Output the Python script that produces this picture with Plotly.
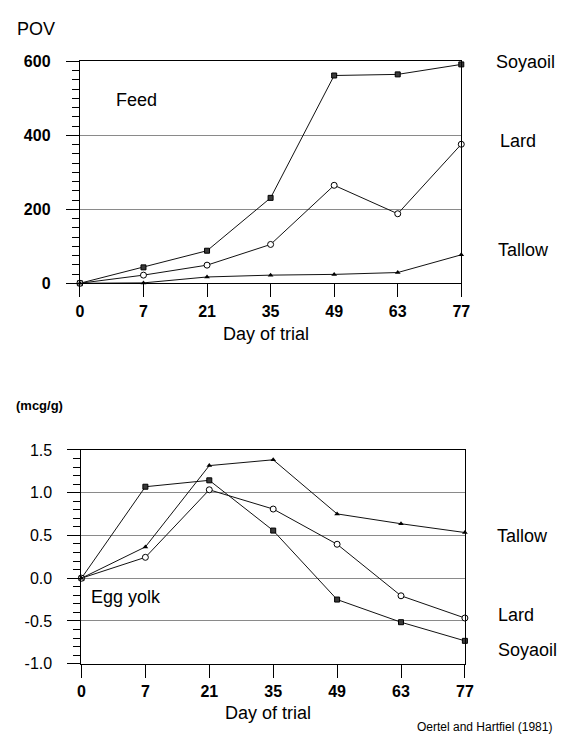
import plotly.graph_objects as go

W, H = 568, 744

days = ["0", "7", "21", "35", "49", "63", "77"]

# Feed POV
feed_soyaoil = [0, 43, 88, 231, 562, 565, 592]
feed_lard = [0, 22, 49, 105, 265, 188, 376]
feed_tallow = [0, 1, 17, 22, 24, 29, 77]

# Egg yolk (mcg/g)
yolk_soyaoil = [0, 1.07, 1.145, 0.557, -0.25, -0.515, -0.733]
yolk_lard = [0, 0.244, 1.034, 0.809, 0.397, -0.206, -0.466]
yolk_tallow = [0, 0.366, 1.317, 1.385, 0.752, 0.637, 0.534]

yolk_ticks = [-1.0, -0.5, 0.0, 0.5, 1.0, 1.5]
yolk_ticktext = ["-1.0", "-0.5", "0.0", "0.5", "1.0", "1.5"]
feed_ticks = [0, 200, 400, 600]
feed_ticktext = ["0", "200", "400", "600"]

FONT = "Liberation Sans, Arial, sans-serif"

def px(x):
    return x / W

def py(y):
    return 1 - y / H

styles = {
    "Soyaoil": dict(symbol="square", size=5, color="#3a3a3a", line=dict(color="black", width=1)),
    "Lard": dict(symbol="circle", size=6, color="white", line=dict(color="black", width=1)),
    "Tallow": dict(symbol="triangle-up", size=5, color="black", line=dict(color="black", width=0)),
}

fig = go.Figure()

for name, vals in [("Soyaoil", feed_soyaoil), ("Lard", feed_lard), ("Tallow", feed_tallow)]:
    fig.add_trace(go.Scatter(x=days, y=vals, mode="lines+markers", name=name,
                             line=dict(color="#111111", width=1), marker=styles[name],
                             cliponaxis=False, xaxis="x", yaxis="y", showlegend=False))

for name, vals in [("Soyaoil", yolk_soyaoil), ("Lard", yolk_lard), ("Tallow", yolk_tallow)]:
    fig.add_trace(go.Scatter(x=days, y=vals, mode="lines+markers", name=name,
                             line=dict(color="#111111", width=1), marker=styles[name],
                             cliponaxis=False, xaxis="x2", yaxis="y2", showlegend=False))

xcommon = dict(type="category", categoryorder="array", categoryarray=days, range=[0, 6],
               showline=True, linecolor="black", linewidth=1.3, mirror=True,
               ticks="outside", ticklen=13, tickcolor="black", tickwidth=1,
               showgrid=False, zeroline=False,
               tickfont=dict(family=FONT, size=16, color="black", weight="bold"))

fig.update_layout(
    width=W, height=H,
    margin=dict(l=0, r=0, t=0, b=0),
    paper_bgcolor="white", plot_bgcolor="white",
    xaxis=dict(domain=[px(77.7), px(468)], anchor="y", **xcommon),
    yaxis=dict(domain=[py(281.7), py(54.7)], anchor="x", range=[0, 600],
               tickmode="array", tickvals=feed_ticks, ticktext=feed_ticktext,
               showline=True, linecolor="black", linewidth=1.3, mirror=True,
               ticks="outside", ticklen=13, tickcolor="black",
               ticklabelstandoff=12,
               minor=dict(ticks="outside", ticklen=7, dtick=25, tickcolor="black", showgrid=False),
               showgrid=True, gridcolor="#8a8a8a", gridwidth=1, zeroline=False,
               tickfont=dict(family=FONT, size=16, color="black", weight="bold")),
    xaxis2=dict(domain=[px(79.3), px(471.7)], anchor="y2", **xcommon),
    yaxis2=dict(domain=[py(671), py(452.3)], anchor="x2", range=[-1.0, 1.5],
                tickmode="array", tickvals=yolk_ticks, ticktext=yolk_ticktext,
                showline=True, linecolor="black", linewidth=1.3, mirror=True,
                ticks="outside", ticklen=13, tickcolor="black",
                ticklabelstandoff=12,
                minor=dict(ticks="outside", ticklen=7, dtick=0.1, tickcolor="black", showgrid=False),
                showgrid=True, gridcolor="#8a8a8a", gridwidth=1, zeroline=False,
                tickfont=dict(family=FONT, size=16, color="black")),
)

def note(text, x, y, size=18, xanchor="left", bold=False):
    fig.add_annotation(text=text, x=px(x), y=py(y), xref="paper", yref="paper",
                       xanchor=xanchor, yanchor="middle", showarrow=False,
                       font=dict(family=FONT, size=size, color="black",
                                 weight="bold" if bold else "normal"))

note("POV", 11, 21, size=18)
note("Feed", 113, 94, size=18)
note("Day of trial", 268.5, 334, size=18, xanchor="center")
note("Soyaoil", 501, 55, size=18)
note("Lard", 506, 136, size=18)
note("Tallow", 504, 248, size=18)

note("(mcg/g)", 10, 407, size=13, bold=True)
note("Egg yolk", 87, 603, size=18)
note("Day of trial", 270, 721, size=18, xanchor="center")
note("Tallow", 502, 540, size=18)
note("Lard", 504, 621, size=18)
note("Soyaoil", 504, 657, size=18)
note("Oertel and Hartfiel (1981)", 421, 736, size=12)

fig.write_html("out.html")
